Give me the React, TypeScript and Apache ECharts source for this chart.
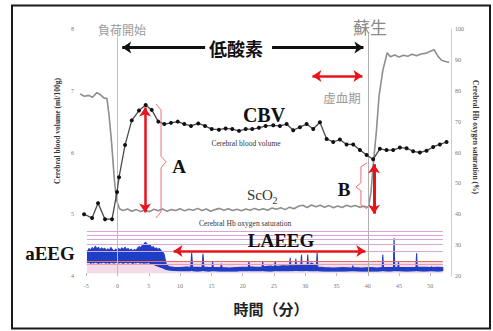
import React, { useEffect, useRef } from 'react';
import * as echarts from 'echarts';

// ---- data ----
const xTicks = [-5, 0, 5, 10, 15, 20, 25, 30, 35, 40, 45, 50];

const cbvTime = [
  -5.35, -4.07, -3.12, -2.0, -0.88, -0.08, 0.24, 1.2, 2.27, 3.43,
  4.5, 5.46, 6.52, 7.48, 8.55, 9.62, 10.67, 11.74, 12.9, 13.98,
  15.05, 16.21, 17.28, 18.34, 19.41, 20.48, 21.53, 22.6, 23.67, 24.89,
  25.96, 27.03, 28.08, 29.15, 30.22, 31.28, 32.35, 33.42, 34.47, 35.54,
  36.61, 37.67, 38.74, 39.81, 40.86, 41.93, 43.0, 44.06, 45.13, 46.2,
  47.25, 48.32, 49.39, 50.45, 51.52, 52.59,
];
const cbvValue = [
  5.0, 4.94, 5.18, 4.92, 4.92, 5.36, 5.6, 6.12, 6.52, 6.68,
  6.77, 6.69, 6.5, 6.46, 6.48, 6.5, 6.46, 6.43, 6.47, 6.43,
  6.38, 6.37, 6.39, 6.38, 6.35, 6.38, 6.38, 6.4, 6.43, 6.44,
  6.43, 6.46, 6.36, 6.41, 6.46, 6.38, 6.49, 6.22, 6.17, 6.21,
  6.13, 6.13, 6.04, 5.96, 5.89, 6.06, 6.04, 6.04, 6.08, 6.07,
  6.02, 6.0, 6.03, 6.09, 6.13, 6.17,
];

const scoTime = [
  -6.0, -5.3, -4.6, -4.0, -3.3, -2.8, -2.2, -1.7, -1.35, -0.95,
  -0.5, -0.15, 0.3, 0.9, 1.6, 2.3, 3.0, 3.7, 4.4, 5.1,
  5.8, 6.5, 7.2, 7.9, 8.6, 9.3, 10.0, 10.7, 11.4, 12.1,
  12.8, 13.5, 14.2, 14.9, 15.6, 16.3, 17.0, 17.7, 18.4, 19.1,
  19.8, 20.5, 21.2, 21.9, 22.6, 23.3, 24.0, 24.7, 25.4, 26.1,
  26.8, 27.5, 28.2, 28.9, 29.6, 30.3, 31.0, 31.7, 32.4, 33.1,
  33.8, 34.5, 35.2, 35.9, 36.6, 37.3, 38.0, 38.7, 39.4, 40.1,
  40.5, 40.9, 41.4, 41.8, 42.4, 43.1, 43.6, 44.3, 45.0, 45.7,
  46.4, 47.1, 47.8, 48.5, 49.2, 49.9, 50.6, 51.2, 51.8, 52.4,
  53.0,
];
const scoValue = [
  79.0, 78.2, 78.5, 77.9, 79.4, 78.8, 77.7, 77.5, 72.0, 63.1,
  51.0, 44.5, 41.8, 41.2, 41.7, 41.0, 41.5, 40.9, 41.4, 40.8,
  41.6, 41.1, 41.7, 41.0, 41.5, 41.2, 41.8, 41.1, 41.6, 41.3,
  41.9, 41.2, 41.7, 41.0, 41.5, 41.9, 41.3, 41.8, 41.2, 41.6,
  41.1, 41.7, 41.3, 41.9, 41.4, 41.8, 41.3, 42.0, 41.6, 42.1,
  41.5, 42.3, 41.8, 42.6, 42.9, 42.2, 43.0, 42.4, 42.9, 42.3,
  42.8, 42.1, 42.7, 42.2, 42.9, 42.4, 42.8, 42.3, 42.6, 42.2,
  47.0, 56.6, 67.5, 78.3, 86.5, 92.3, 91.0, 91.6, 90.9, 91.5,
  91.2, 91.8, 91.3, 91.9, 92.1, 92.7, 93.3, 91.2, 89.9, 89.5,
  89.2,
];

const eegTime = [
  -4.8, -4.55, -4.3, -4.05, -3.8, -3.55, -3.3, -3.05, -2.8, -2.55,
  -2.3, -2.05, -1.8, -1.55, -1.3, -1.05, -0.8, -0.55, -0.3, -0.05,
  0.2, 0.45, 0.7, 0.95, 1.2, 1.45, 1.7, 1.95, 2.2, 2.45,
  2.7, 2.95, 3.2, 3.45, 3.7, 3.95, 4.2, 4.45, 4.7, 4.95,
  5.2, 5.45, 5.7, 5.95, 6.2, 6.45, 6.7, 6.95, 7.2, 7.45,
  7.8, 8.3, 9.0, 10.0,
  11.0, 11.7, 11.85, 12.0, 12.8, 13.5, 13.66, 13.8, 14.6, 15.1,
  15.2, 15.3, 16.5, 16.6, 16.7, 17.8, 19.0, 20.0, 20.9, 21.0,
  21.1, 22.1, 23.1, 23.2, 23.3, 24.5, 25.1, 25.2, 25.3, 26.4,
  27.5, 27.6, 27.7, 28.4, 28.5, 28.6, 29.3, 29.4, 29.5, 30.3,
  30.4, 30.5, 31.0, 31.8, 31.9, 32.0, 33.0, 34.5, 36.0, 37.5,
  37.6, 37.7, 39.0, 40.5, 41.5, 42.3, 42.4, 42.5, 43.5, 44.1,
  44.2, 44.3, 44.8, 44.9, 45.0, 46.2, 47.7, 47.8, 47.9, 49.0,
  50.1, 50.2, 50.3, 51.2, 52.0,
];
const eegLow = [
  24.4, 24.6, 24.2, 24.5, 24.3, 24.6, 24.4, 24.2, 24.5, 24.3,
  24.6, 24.4, 24.3, 24.5, 24.2, 24.6, 24.4, 24.3, 24.5, 24.6,
  24.3, 24.5, 24.4, 24.2, 24.6, 24.4, 24.3, 24.5, 24.4, 24.2,
  24.5, 24.3, 24.6, 24.4, 24.3, 24.5, 24.2, 24.4, 24.3, 24.5,
  24.2, 24.1, 23.9, 23.7, 23.5, 23.3, 23.1, 22.9, 22.7, 22.5,
  22.2, 22.0, 21.9, 21.8,
  21.9, 21.8, 22.0, 21.8, 21.7, 21.8, 22.0, 21.8, 21.7, 21.8,
  21.9, 21.8, 21.7, 21.8, 21.7, 21.8, 21.7, 21.9, 21.8, 22.0,
  21.8, 21.9, 21.8, 22.0, 21.8, 21.7, 21.8, 22.0, 21.8, 21.9,
  21.8, 22.0, 21.8, 21.9, 22.0, 21.9, 21.8, 22.0, 21.8, 21.9,
  22.0, 21.8, 21.9, 21.8, 22.0, 21.8, 21.7, 21.8, 21.7, 21.8,
  21.9, 21.8, 21.7, 21.8, 21.7, 21.8, 22.0, 21.8, 21.7, 21.8,
  22.0, 21.8, 21.8, 21.9, 21.8, 21.7, 21.8, 22.0, 21.8, 21.7,
  21.8, 21.9, 21.8, 21.7, 21.8,
];
const eegHigh = [
  28.0, 28.9, 28.3, 29.2, 28.6, 29.6, 28.8, 29.3, 28.4, 29.1,
  28.6, 29.0, 28.2, 28.8, 28.3, 29.2, 28.5, 28.0, 28.7, 28.2,
  28.9, 28.4, 29.1, 28.6, 29.3, 28.5, 28.9, 28.2, 28.7, 28.0,
  28.6, 28.3, 29.0, 29.5, 29.1, 29.9, 30.3, 30.9, 30.4, 29.7,
  30.0, 29.2, 29.5, 28.8, 29.1, 28.6, 28.9, 28.2, 27.8, 27.0,
  23.6, 23.0, 22.8, 22.7,
  22.9, 22.8, 27.4, 22.9, 22.8, 22.7, 27.1, 22.9, 22.7, 22.8,
  24.5, 22.8, 22.7, 23.9, 22.7, 22.6, 22.7, 22.8, 22.9, 24.5,
  23.0, 22.8, 22.9, 24.6, 23.0, 23.2, 22.9, 24.8, 23.1, 23.3,
  23.2, 25.8, 23.3, 23.4, 25.5, 23.2, 23.6, 26.8, 23.4, 23.5,
  26.8, 23.3, 24.2, 23.2, 27.4, 22.9, 22.7, 22.6, 22.7, 22.6,
  23.3, 22.7, 22.6, 22.7, 22.6, 22.7, 26.8, 22.8, 22.7, 22.8,
  32.1, 22.9, 22.8, 24.5, 22.8, 22.7, 22.8, 27.3, 22.9, 22.8,
  22.7, 23.0, 22.7, 22.8, 22.7,
];

// aEEG reference grid levels (right-axis units)
const eegGridLevels = [34.4, 33.1, 31.8, 30.4, 27.9];
const eegRedLevels = [24.7, 23.9];
const eegBand = [20.9, 24.7];

// ---- styles ----
const SERIF = '"Liberation Serif", "DejaVu Serif", serif';
const CJK = '"Noto Sans CJK JP", "Noto Sans CJK SC", sans-serif';
const RED = '#e8141c';
const BLUE = '#1e3ec6';

function buildOption() {
  const cbvData = cbvTime.map((t, i) => [t, cbvValue[i]]);
  const scoData = scoTime.map((t, i) => [t, scoValue[i]]);
  const eegLowData = eegTime.map((t, i) => [t, eegLow[i]]);
  const eegData = eegTime.map((t, i) => [t, eegHigh[i], eegLow[i]]);

  const txt = (x: number, y: number, text: string, font: string, fill: string, extra: any = {}, align = 'center') => ({
    type: 'text',
    x,
    y,
    z: 50,
    silent: true,
    ...extra,
    style: {
      text,
      font,
      fill,
      align,
      verticalAlign: 'middle',
      textAlign: align,
      textVerticalAlign: 'middle',
    },
  });

  const redArrow = (a: number[], b: number[], width: number) => [
    { coord: a, symbol: 'arrow', symbolSize: 9, lineStyle: { color: RED, width, type: 'solid' } },
    { coord: b, symbol: 'arrow', symbolSize: 9 },
  ];

  return {
    animation: false,
    backgroundColor: '#ffffff',
    grid: { left: 80, right: 42, top: 29, bottom: 55, containLabel: false },
    xAxis: {
      type: 'value',
      min: -6,
      max: 53.3,
      axisLine: { show: false },
      axisTick: { show: true, inside: true, length: 3, lineStyle: { color: '#bbb' }, customValues: xTicks },
      axisLabel: { customValues: xTicks, fontSize: 6, color: '#777', margin: 7, fontFamily: SERIF },
      splitLine: { show: false },
    },
    yAxis: [
      {
        type: 'value',
        min: 4,
        max: 8,
        interval: 1,
        position: 'left',
        axisLine: { show: true, lineStyle: { color: '#cfcfcf', width: 1 } },
        axisTick: { show: false },
        axisLabel: { fontSize: 6, color: '#777', margin: 6, fontFamily: SERIF },
        splitLine: { show: false },
      },
      {
        type: 'value',
        min: 20,
        max: 100,
        interval: 10,
        position: 'right',
        axisLine: { show: true, lineStyle: { color: '#cfcfcf', width: 1 } },
        axisTick: { show: false },
        axisLabel: { fontSize: 6, color: '#777', margin: 4, fontFamily: SERIF },
        splitLine: { show: false },
      },
    ],
    series: [
      {
        name: 'aEEG lower',
        type: 'line',
        yAxisIndex: 1,
        data: eegLowData,
        symbol: 'none',
        lineStyle: { color: BLUE, width: 1.5 },
        z: 3,
        silent: true,
        markArea: {
          silent: true,
          itemStyle: { color: '#f3dbea' },
          data: [[{ coord: [-4.9, eegBand[0]] }, { coord: [52.0, eegBand[1]] }]],
        },
        markLine: {
          silent: true,
          symbol: ['none', 'none'],
          label: { show: false },
          data: [
            ...eegGridLevels.map((v) => [
              { coord: [-4.9, v], lineStyle: { color: '#d8a6d6', width: 1, type: 'solid' } },
              { coord: [52.0, v] },
            ]),
            ...eegRedLevels.map((v, i) => [
              { coord: [-4.9, v], lineStyle: { color: i === 0 ? '#e46a6a' : '#eba0a8', width: 1, type: 'solid' } },
              { coord: [52.0, v] },
            ]),
            redArrow([8.95, 28.1], [39.6, 28.1], 2.5),
          ],
        },
      },
      {
        name: 'aEEG band',
        type: 'custom',
        yAxisIndex: 1,
        data: eegData,
        encode: { x: 0, y: [1, 2] },
        z: 3,
        silent: true,
        renderItem: (params: any, api: any) => {
          if (params.dataIndex !== 0) return null;
          const upper = eegTime.map((t, i) => api.coord([t, eegHigh[i]]));
          const lower = eegTime.map((t, i) => api.coord([t, eegLow[i]])).reverse();
          return {
            type: 'polygon',
            shape: { points: upper.concat(lower) },
            style: { fill: BLUE, stroke: BLUE, lineWidth: 1.1, lineJoin: 'round' },
          };
        },
      },
      {
        name: 'ScO2',
        type: 'line',
        yAxisIndex: 1,
        data: scoData,
        symbol: 'none',
        lineStyle: { color: '#8e8e8e', width: 1.6 },
        z: 4,
        silent: true,
      },
      {
        name: 'CBV',
        type: 'line',
        yAxisIndex: 0,
        data: cbvData,
        symbol: 'circle',
        symbolSize: 4,
        itemStyle: { color: '#111' },
        lineStyle: { color: '#4a4a4a', width: 1.3 },
        z: 5,
        silent: true,
        markLine: {
          silent: true,
          symbol: ['none', 'none'],
          label: { show: false },
          data: [
            [{ coord: [0, 4], lineStyle: { color: '#bdbdbd', width: 1, type: 'solid' } }, { coord: [0, 7.85] }],
            [{ coord: [40, 4], lineStyle: { color: '#b0b0b0', width: 1, type: 'solid' } }, { coord: [40, 7.93] }],
            [
              { coord: [14.0, 7.7], symbol: 'none', lineStyle: { color: '#111', width: 3, type: 'solid' } },
              { coord: [0.75, 7.7], symbol: 'arrow', symbolSize: 9 },
            ],
            [
              { coord: [24.7, 7.7], symbol: 'none', lineStyle: { color: '#111', width: 3, type: 'solid' } },
              { coord: [39.3, 7.7], symbol: 'arrow', symbolSize: 9 },
            ],
            redArrow([31.15, 7.24], [39.14, 7.24], 2.5),
            redArrow([4.4, 5.03], [4.4, 6.73], 2.5),
            redArrow([41.0, 5.01], [41.0, 5.81], 3),
          ],
        },
      },
      {
        name: 'bracketA',
        type: 'line',
        yAxisIndex: 0,
        data: [[6.15, 6.785], [6.95, 6.69], [6.95, 5.94], [7.75, 5.85], [6.95, 5.75], [6.95, 5.04], [6.15, 4.94]],
        symbol: 'none',
        lineStyle: { color: '#f07070', width: 1 },
        z: 6,
        silent: true,
      },
      {
        name: 'bracketB',
        type: 'line',
        yAxisIndex: 0,
        data: [[39.86, 5.83], [38.9, 5.77], [38.9, 5.51], [38.1, 5.44], [38.9, 5.38], [38.9, 5.15], [39.86, 5.09]],
        symbol: 'none',
        lineStyle: { color: '#f07070', width: 1 },
        z: 6,
        silent: true,
      },
    ],
    graphic: [
      {
        type: 'rect',
        z: 100,
        silent: true,
        shape: { x: 12, y: 5.5, width: 478, height: 323 },
        style: { fill: 'none', stroke: '#1a1a1a', lineWidth: 2 },
      },
      txt(122, 29, '負荷開始', `12px ${CJK}`, '#9a9a9a'),
      txt(370, 26, '蘇生', `17px ${CJK}`, '#8a8a8a'),
      txt(236, 48, '低酸素', `bold 18px ${CJK}`, '#111'),
      txt(342, 97, '虚血期', `12.5px ${CJK}`, '#9a9a9a'),
      txt(264, 115, 'CBV', `bold 20px ${SERIF}`, '#111'),
      txt(246, 143, 'Cerebral blood volume', `7.5px ${SERIF}`, '#333'),
      txt(247, 195, 'ScO', `15px ${SERIF}`, '#333', {}, 'left'),
      txt(272.5, 200, '2', `10px ${SERIF}`, '#333', {}, 'left'),
      txt(245, 223, 'Cerebral Hb oxygen saturation', `7.5px ${SERIF}`, '#333'),
      txt(179, 166, 'A', `bold 19px ${SERIF}`, '#111'),
      txt(344, 189, 'B', `bold 19px ${SERIF}`, '#111'),
      txt(50, 253, 'aEEG', `bold 19px ${SERIF}`, '#111'),
      txt(281, 240, 'LAEEG', `bold 19px ${SERIF}`, '#111'),
      txt(271, 308, '時間（分）', `bold 15px ${CJK}`, '#222'),
      txt(57, 131, 'Cerebral blood volume (ml/100g)', `bold 7.5px ${SERIF}`, '#333', { rotation: Math.PI / 2 }),
      txt(475, 137, 'Cerebral Hb oxygen saturation (%)', `bold 7.5px ${SERIF}`, '#333', { rotation: -Math.PI / 2 }),
    ],
  };
}

export default function App() {
  const ref = useRef<HTMLDivElement>(null);
  useEffect(() => {
    if (!ref.current) return;
    const chart = echarts.init(ref.current, null, { renderer: 'svg' });
    chart.setOption(buildOption() as any);
    return () => chart.dispose();
  }, []);
  return (
    <div
      ref={ref}
      style={{ position: 'absolute', left: 0, top: 0, width: 493, height: 331, background: '#fff' }}
    />
  );
}
